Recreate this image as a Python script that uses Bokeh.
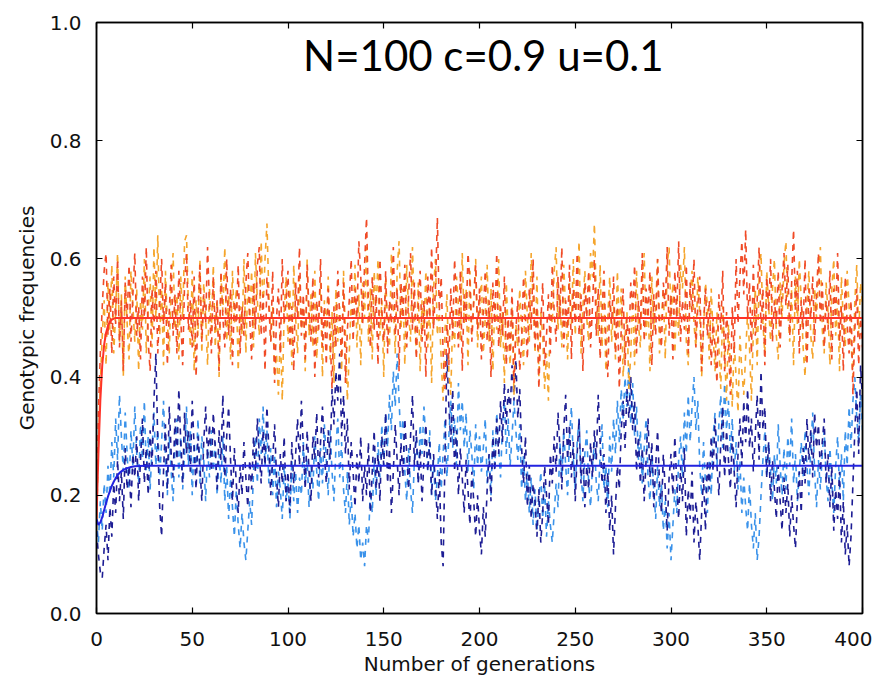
from bokeh.plotting import figure
from bokeh.models import (Range1d, LinearAxis, SingleIntervalTicker, NumeralTickFormatter,
                          CustomJSTickFormatter, Label)
from bokeh.embed import file_html
from bokeh.resources import INLINE

# ---- data (frequencies in percent, generation index = position) ----
DARK_BLUE = [
    14, 10, 7, 6, 11, 15, 9, 18, 13, 22, 17, 26, 19, 24, 16, 28, 21, 25, 18, 27,
    23, 30, 19, 26, 33, 22, 28, 20, 31, 25, 36, 44, 29, 18, 13, 24, 32, 21, 35, 27,
    23, 33, 26, 38, 29, 22, 34, 27, 31, 24, 36, 28, 21, 30, 25, 19, 29, 35, 26, 32,
    24, 34, 28, 21, 31, 26, 37, 23, 30, 35, 26, 19, 28, 22, 17, 25, 20, 29, 23, 18,
    26, 21, 30, 24, 33, 27, 22, 31, 25, 35, 28, 20, 26, 32, 23, 18, 27, 22, 30, 19,
    24, 17, 29, 22, 27, 33, 25, 36, 28, 21, 31, 24, 19, 30, 26, 34, 23, 29, 35, 27,
    22, 31, 26, 38, 32, 41, 36, 44, 30, 37, 27, 33, 21, 29, 24, 18, 27, 22, 30, 19,
    25, 20, 29, 17, 24, 31, 21, 27, 19, 30, 25, 34, 22, 28, 17, 24, 32, 26, 20, 29,
    23, 33, 27, 21, 30, 37, 25, 31, 22, 28, 19, 26, 32, 24, 29, 20, 27, 22, 16, 24,
    12, 8, 27, 44, 35, 29, 38, 24, 31, 20, 28, 23, 17, 26, 21, 15, 24, 19, 13, 20,
    14, 10, 18, 13, 21, 27, 19, 30, 24, 33, 27, 36, 29, 39, 32, 38, 34, 42, 36, 43,
    33, 38, 28, 22, 30, 18, 25, 16, 22, 19, 13, 21, 12, 17, 25, 20, 15, 27, 22, 30,
    24, 34, 28, 21, 31, 37, 26, 32, 23, 29, 19, 27, 33, 22, 28, 18, 25, 21, 29, 23,
    31, 26, 37, 29, 22, 27, 17, 24, 14, 20, 10, 18, 25, 21, 31, 36, 28, 38, 33, 40,
    31, 36, 24, 30, 22, 28, 19, 26, 33, 23, 29, 18, 25, 31, 22, 17, 27, 21, 14, 23,
    27, 20, 30, 22, 16, 25, 19, 28, 13, 21, 16, 24, 12, 19, 15, 9, 17, 23, 14, 26,
    21, 30, 24, 33, 25, 20, 29, 35, 23, 31, 26, 21, 30, 24, 18, 27, 33, 25, 36, 29,
    38, 28, 33, 24, 30, 37, 26, 41, 31, 35, 23, 29, 19, 26, 21, 16, 25, 19, 14, 23,
    17, 22, 13, 20, 15, 11, 19, 24, 17, 28, 22, 33, 26, 31, 23, 34, 28, 32, 24, 29,
    33, 22, 27, 18, 25, 14, 21, 16, 24, 12, 19, 10, 15, 8, 13, 22, 31, 38, 27, 42,
    36,
]

LIGHT_BLUE = [
    16, 12, 19, 14, 22, 17, 25, 20, 29, 23, 33, 26, 37, 30, 24, 34, 27, 21, 31, 25,
    35, 27, 22, 32, 26, 36, 24, 30, 21, 28, 34, 25, 31, 23, 29, 36, 26, 20, 30, 24,
    19, 28, 33, 23, 30, 21, 27, 35, 25, 31, 20, 29, 24, 33, 22, 30, 26, 19, 28, 23,
    31, 24, 29, 20, 27, 22, 30, 19, 25, 16, 23, 18, 13, 21, 15, 11, 17, 12, 9, 14,
    19, 15, 24, 30, 22, 33, 27, 35, 25, 31, 22, 28, 20, 27, 18, 24, 21, 16, 25, 19,
    22, 16, 26, 19, 24, 17, 23, 20, 29, 22, 26, 18, 25, 21, 30, 24, 19, 28, 22, 32,
    26, 20, 31, 24, 19, 28, 33, 23, 29, 21, 17, 24, 15, 20, 13, 17, 11, 15, 9, 12,
    8, 15, 12, 21, 17, 26, 20, 29, 23, 32, 25, 34, 28, 37, 31, 41, 35, 44, 36, 29,
    33, 24, 19, 28, 21, 17, 26, 30, 22, 32, 27, 35, 29, 24, 31, 20, 26, 19, 23, 29,
    21, 27, 33, 23, 30, 36, 28, 33, 25, 39, 31, 36, 28, 34, 24, 31, 27, 21, 32, 25,
    30, 24, 28, 33, 22, 27, 20, 31, 25, 34, 28, 23, 32, 36, 27, 33, 25, 30, 36, 31,
    26, 32, 21, 27, 19, 24, 17, 23, 15, 21, 14, 19, 24, 16, 22, 13, 19, 15, 12, 17,
    22, 18, 29, 23, 31, 25, 20, 30, 35, 26, 21, 29, 33, 24, 19, 27, 31, 22, 18, 25,
    29, 22, 19, 27, 32, 21, 25, 18, 30, 24, 33, 27, 36, 29, 38, 33, 40, 35, 42, 32,
    39, 30, 35, 26, 31, 22, 28, 33, 23, 19, 27, 21, 16, 25, 18, 22, 14, 19, 11, 17,
    9, 15, 21, 17, 26, 30, 23, 34, 27, 37, 29, 35, 40, 31, 36, 25, 20, 29, 22, 17,
    26, 20, 30, 34, 25, 32, 37, 28, 39, 31, 36, 27, 33, 24, 29, 21, 26, 17, 23, 18,
    14, 22, 15, 11, 17, 9, 13, 20, 26, 31, 23, 29, 24, 19, 27, 22, 32, 25, 20, 28,
    21, 30, 25, 33, 22, 27, 19, 24, 29, 23, 31, 25, 20, 28, 34, 24, 18, 26, 21, 27,
    31, 23, 19, 28, 22, 17, 25, 30, 21, 27, 19, 31, 25, 35, 28, 36, 40, 33, 29, 37,
    31,
]

RED_ORANGE = [
    17, 34, 44, 52, 58, 61, 47, 55, 44, 57, 49, 60, 45, 53, 41, 56, 50, 59, 46, 54,
    61, 47, 52, 43, 57, 50, 62, 46, 41, 55, 48, 58, 44, 52, 60, 49, 56, 42, 51, 59,
    47, 54, 44, 58, 50, 42, 56, 61, 48, 53, 45, 57, 40, 51, 59, 46, 54, 49, 62, 52,
    44, 57, 48, 53, 41, 58, 50, 45, 60, 47, 55, 42, 53, 49, 59, 44, 52, 47, 56, 61,
    50, 43, 56, 48, 59, 62, 47, 54, 41, 57, 52, 46, 58, 39, 50, 55, 44, 60, 49, 53,
    58, 45, 52, 41, 56, 50, 62, 47, 54, 43, 59, 51, 46, 57, 40, 53, 48, 60, 45, 52,
    42, 55, 47, 38, 52, 45, 58, 50, 43, 56, 39, 48, 53, 60, 46, 55, 50, 63, 57, 49,
    59, 67, 52, 45, 57, 48, 54, 42, 60, 51, 46, 58, 44, 53, 49, 62, 47, 55, 41, 56,
    50, 59, 45, 54, 61, 48, 56, 43, 52, 58, 46, 53, 40, 57, 50, 62, 48, 55, 67, 51,
    57, 44, 38, 49, 42, 55, 47, 60, 52, 45, 58, 41, 54, 49, 61, 56, 46, 53, 59, 48,
    55, 43, 51, 58, 46, 53, 40, 56, 49, 61, 45, 52, 47, 57, 42, 50, 44, 55, 39, 48,
    53, 41, 46, 57, 50, 43, 55, 48, 60, 45, 52, 38, 49, 56, 42, 47, 54, 44, 59, 51,
    46, 57, 50, 62, 45, 53, 48, 59, 43, 55, 49, 61, 47, 54, 41, 56, 50, 58, 45, 52,
    60, 47, 55, 43, 51, 58, 46, 40, 53, 49, 57, 44, 52, 38, 48, 55, 42, 50, 45, 56,
    51, 59, 44, 53, 48, 61, 46, 55, 50, 58, 42, 54, 47, 60, 49, 45, 56, 52, 62, 47,
    54, 43, 58, 50, 63, 46, 53, 48, 59, 44, 56, 51, 60, 45, 52, 57, 41, 49, 55, 47,
    53, 42, 50, 45, 39, 54, 48, 58, 41, 51, 46, 37, 52, 44, 60, 49, 57, 63, 54, 65,
    50, 56, 44, 59, 47, 53, 62, 48, 55, 42, 57, 51, 60, 46, 53, 49, 58, 45, 55, 61,
    52, 59, 47, 56, 65, 51, 58, 44, 53, 48, 60, 42, 55, 50, 57, 46, 54, 61, 49, 56,
    45, 53, 48, 58, 43, 55, 50, 61, 46, 52, 41, 57, 49, 44, 53, 37, 48, 55, 42, 50,
    45,
]

LIGHT_ORANGE = [
    14, 29, 39, 47, 53, 42, 56, 48, 59, 44, 51, 61, 46, 54, 40, 57, 49, 43, 58, 52,
    46, 55, 41, 53, 48, 60, 44, 51, 57, 45, 62, 50, 64, 47, 55, 42, 58, 49, 44, 56,
    61, 48, 54, 43, 57, 50, 63, 64, 52, 45, 58, 41, 53, 47, 60, 44, 56, 50, 42, 55,
    48, 59, 45, 53, 40, 57, 51, 62, 46, 54, 43, 58, 49, 55, 41, 52, 47, 60, 44, 56,
    50, 58, 45, 61, 53, 47, 63, 51, 60, 66, 54, 46, 52, 40, 44, 37, 48, 36, 51, 57,
    46, 55, 42, 59, 50, 44, 57, 48, 53, 41, 60, 47, 54, 45, 58, 43, 51, 56, 40, 53,
    48, 57, 43, 51, 39, 55, 46, 52, 41, 58, 47, 36, 44, 53, 49, 59, 45, 54, 42, 56,
    50, 62, 46, 55, 43, 58, 51, 60, 47, 53, 40, 57, 49, 45, 61, 52, 44, 58, 63, 48,
    55, 42, 59, 51, 46, 62, 50, 44, 56, 41, 53, 48, 58, 45, 52, 39, 55, 60, 47, 51,
    43, 36, 48, 54, 41, 37, 50, 45, 57, 52, 46, 61, 49, 55, 42, 58, 47, 53, 60, 45,
    52, 57, 44, 50, 59, 46, 55, 41, 53, 48, 60, 45, 51, 39, 56, 47, 42, 52, 37, 49,
    45, 55, 48, 42, 58, 50, 46, 61, 53, 44, 57, 40, 51, 47, 38, 44, 36, 53, 49, 58,
    62, 48, 54, 45, 59, 51, 43, 56, 49, 60, 47, 55, 63, 44, 52, 58, 50, 46, 61, 57,
    66, 53, 47, 59, 45, 54, 41, 50, 57, 46, 52, 43, 58, 48, 55, 40, 47, 51, 38, 44,
    54, 42, 58, 49, 45, 56, 61, 47, 53, 41, 57, 48, 52, 60, 44, 50, 55, 43, 59, 62,
    50, 56, 44, 53, 47, 59, 55, 62, 46, 42, 54, 58, 49, 45, 57, 51, 40, 48, 56, 52,
    43, 55, 47, 41, 51, 45, 38, 52, 44, 36, 49, 42, 35, 46, 40, 34, 47, 41, 37, 44,
    51, 45, 36, 48, 55, 42, 57, 61, 49, 44, 58, 52, 46, 55, 60, 47, 43, 56, 50, 59,
    63, 51, 46, 55, 42, 57, 49, 60, 53, 45, 40, 52, 58, 47, 43, 55, 50, 57, 62, 48,
    44, 56, 51, 42, 55, 60, 47, 53, 41, 57, 49, 45, 58, 52, 46, 40, 53, 59, 47, 56,
    52,
]

# deterministic expectations (generation, frequency)
ORANGE_DET_GEN = [0, 1, 2, 3, 4, 5, 6, 7, 8, 9, 10, 400]
ORANGE_DET_VAL = [0.16, 0.27, 0.36, 0.42, 0.455, 0.475, 0.487, 0.494, 0.497, 0.499, 0.5, 0.5]
BLUE_DET_GEN = [0, 1, 2, 3, 4, 5, 6, 7, 8, 9, 10, 12, 14, 16, 18, 20, 25, 400]
BLUE_DET_VAL = [0.16, 0.15, 0.154, 0.163, 0.175, 0.187, 0.198, 0.207, 0.216, 0.223,
                0.229, 0.238, 0.243, 0.246, 0.248, 0.249, 0.25, 0.25]

TITLE = "N=100 c=0.9 u=0.1"
X_LABEL = "Number of generations"
Y_LABEL = "Genotypic frequencies"

FONT = "DejaVu Sans"

p = figure(frame_width=766, frame_height=591,
           x_range=Range1d(0, 400), y_range=Range1d(0, 1),
           output_backend="svg", toolbar_location=None,
           min_border_left=96, min_border_right=10, min_border_top=22, min_border_bottom=58,
           background_fill_color="white", border_fill_color="white")
p.grid.visible = False
p.outline_line_color = "black"
p.outline_line_width = 1.5


def style_axis(ax, show_labels=True):
    ax.major_tick_in = 6
    ax.major_tick_out = 0
    ax.minor_tick_line_color = None
    ax.axis_line_color = "black"
    ax.axis_line_width = 1.5
    ax.major_tick_line_color = "black"
    ax.major_tick_line_width = 1.2
    ax.major_label_text_font = FONT
    ax.major_label_text_font_size = "20px"
    if show_labels:
        ax.major_label_text_color = "#111111"
    else:
        ax.formatter = CustomJSTickFormatter(code="return ''")
        ax.major_label_text_color = None
        ax.major_label_standoff = 0


xa = p.xaxis[0]
xa.ticker = SingleIntervalTicker(interval=50, num_minor_ticks=0)
style_axis(xa)
xa.major_label_standoff = 18
xa.axis_label = X_LABEL
xa.axis_label_text_font = FONT
xa.axis_label_text_font_size = "20px"
xa.axis_label_text_font_style = "normal"
xa.axis_label_text_color = "#111111"
xa.axis_label_standoff = 3

ya = p.yaxis[0]
ya.ticker = SingleIntervalTicker(interval=0.2, num_minor_ticks=0)
ya.formatter = NumeralTickFormatter(format="0.0")
style_axis(ya)
ya.major_label_standoff = 15
ya.axis_label = Y_LABEL
ya.axis_label_text_font = FONT
ya.axis_label_text_font_size = "20px"
ya.axis_label_text_font_style = "normal"
ya.axis_label_text_color = "#111111"
ya.axis_label_standoff = 8

top = LinearAxis(ticker=SingleIntervalTicker(interval=50, num_minor_ticks=0))
style_axis(top, show_labels=False)
p.add_layout(top, "above")
right = LinearAxis(ticker=SingleIntervalTicker(interval=0.2, num_minor_ticks=0))
style_axis(right, show_labels=False)
p.add_layout(right, "right")

DASH = "6 6"
series = [
    (LIGHT_BLUE, "#3a92ea"),
    (DARK_BLUE, "#1d1d94"),
    (LIGHT_ORANGE, "#f5a52c"),
    (RED_ORANGE, "#f04a26"),
]
for vals, col in series:
    xs = list(range(len(vals)))
    ys = [v / 100 for v in vals]
    p.line(xs, ys, line_color=col, line_width=1.6, line_dash=DASH)

p.line(BLUE_DET_GEN, BLUE_DET_VAL, line_color="#2323e0", line_width=2)
p.line(ORANGE_DET_GEN, ORANGE_DET_VAL, line_color="#ff3328", line_width=2)

p.add_layout(Label(x=202, y=0.945, text=TITLE, text_font="Lato", text_font_size="42px",
                   text_align="center", text_baseline="alphabetic", text_color="black"))

open("out.html", "w").write(file_html(p, INLINE))
